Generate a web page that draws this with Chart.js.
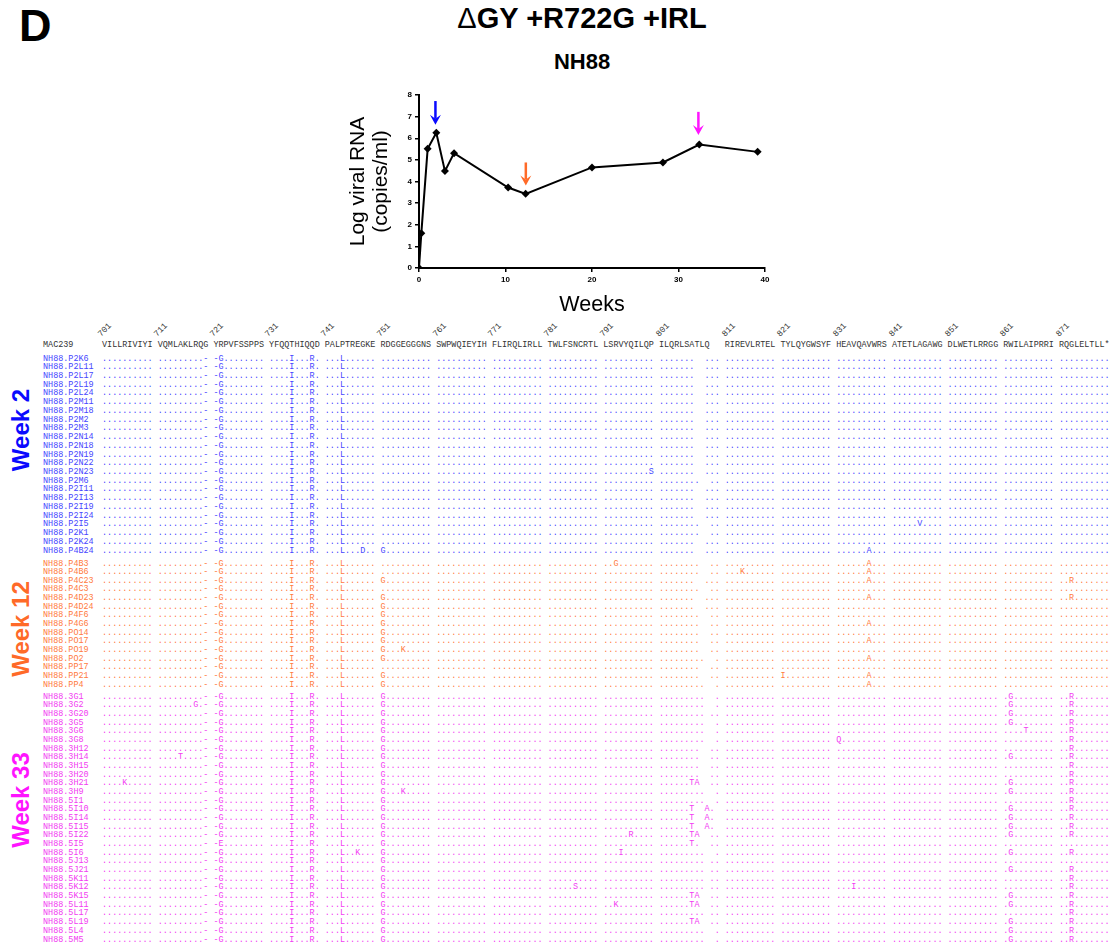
<!DOCTYPE html>
<html>
<head>
<meta charset="utf-8">
<script src="https://cdn.jsdelivr.net/npm/chart.js@4.4.1/dist/chart.umd.min.js"></script>
<style>
  html, body { margin: 0; padding: 0; background: #fff; }
  body { width: 1112px; height: 949px; position: relative; overflow: hidden; font-family: "Liberation Sans", Arial, sans-serif; color: #000; }
  #panel { position: absolute; left: 19px; top: 0px; font-size: 45px; line-height: 52px; font-weight: bold; }
  #title { position: absolute; left: 382px; width: 400px; top: 1px; text-align: center; font-size: 29px; line-height: 34px; font-weight: bold; }
  #title .delta { font-weight: normal; }
  #subtitle { position: absolute; left: 482px; width: 200px; top: 49px; text-align: center; font-size: 22px; font-weight: bold; }
  #chartBox { position: absolute; left: 330px; top: 85px; width: 450px; height: 235px; }
  .seq { position: absolute; font-family: "Liberation Mono", "Courier New", monospace; font-size: 8.45px; line-height: 9px; white-space: pre; }
  .pos { position: absolute; font-family: "Liberation Mono", "Courier New", monospace; font-size: 8.5px; line-height: 9px; color: #333; transform-origin: 0 100%; transform: rotate(-45deg); white-space: pre; }
  .week { position: absolute; font-size: 24px; font-weight: bold; white-space: pre; transform: translate(-50%, -50%) rotate(-90deg); }
</style>
</head>
<body>
<div id="panel">D</div>
<div id="title"><span class="delta">Δ</span>GY +R722G +IRL</div>
<div id="subtitle">NH88</div>
<div id="chartBox"><canvas id="viralLoad" width="450" height="235"></canvas></div>
<div id="alignment"></div>
<script>
// viral load curve
const weeks = [0, 0.27, 1, 2, 3, 4.05, 10.3, 12.33, 20, 28.2, 32.4, 39.15];
const logRNA = [0, 1.61, 5.51, 6.25, 4.48, 5.31, 3.72, 3.43, 4.65, 4.88, 5.71, 5.37];
const xTicks = [0, 10, 20, 30, 40];
const yTicks = [0, 1, 2, 3, 4, 5, 6, 7, 8];

// sampling arrows
const arrowWeeks = [1.9, 12.35, 32.3];
const arrowTops = [7.72, 4.88, 7.22];
const arrowTips = [6.62, 3.82, 6.15];
const arrowColors = ["#0a0aff", "#ff6a28", "#ff14ff"];

// alignment
const positions = [701, 711, 721, 731, 741, 751, 761, 771, 781, 791, 801, 811, 821, 831, 841, 851, 861, 871];
const refBlocks = ["VILLRIVIYI", "VQMLAKLRQG", "YRPVFSSPPS", "YFQQTHIQQD", "PALPTREGKE", "RDGGEGGGNS",
  "SWPWQIEYIH", "FLIRQLIRLL", "TWLFSNCRTL", "LSRVYQILQP", "ILQRLSATLQ  ", "RIREVLRTEL",
  "TYLQYGWSYF", "HEAVQAVWRS", "ATETLAGAWG", "DLWETLRRGG", "RWILAIPRRI", "RQGLELTLL*"];

const D = "..........";
const GAP7 = ".......  ...";
const GAP8 = "........  ..";
const GAP9 = ".........  .";
const GAP9B = "......... ..";
const TA = "......TA  ..";
const TXA = "......T  A. ";
const T1 = "......T.  ..";
const A6 = "......A...";
const G751 = "G.........";
const G861 = ".G........";
const R871 = "..R.......";

const base2 = [D, ".........-", "-G........", "....I...R.", "...L......", D, D, D, D, D, GAP7, D, D, D, D, D, D, D];
const base12 = [D, ".........-", "-G........", "....I...R.", "...L......", G751, D, D, D, D, GAP8, D, D, D, D, D, D, D];
const base33 = [D, ".........-", "-G........", "....I...R.", "...L......", G751, D, D, D, D, GAP9, D, D, D, D, D, G861, R871];

const week2Rows = [
  ["NH88.P2K6", {}], ["NH88.P2L11", {}], ["NH88.P2L17", {}], ["NH88.P2L19", {}], ["NH88.P2L24", {}],
  ["NH88.P2M11", {}], ["NH88.P2M18", {}], ["NH88.P2M2", {}], ["NH88.P2M3", {}], ["NH88.P2N14", {}],
  ["NH88.P2N18", {}], ["NH88.P2N19", {}], ["NH88.P2N22", {}], ["NH88.P2N23", { 9: ".........S" }],
  ["NH88.P2M6", { 10: GAP8 }], ["NH88.P2I11", {}], ["NH88.P2I13", {}], ["NH88.P2I19", {}], ["NH88.P2I24", {}],
  ["NH88.P2I5", { 10: GAP8, 14: ".....V...." }], ["NH88.P2K1", { 10: GAP8 }], ["NH88.P2K24", {}],
  ["NH88.P4B24", { 4: "...L...D..", 5: G751, 13: A6 }]
];

const week12Rows = [
  ["NH88.P4B3", { 5: D, 9: "..G.......", 13: A6 }],
  ["NH88.P4B6", { 5: D, 11: "...K......", 13: A6 }],
  ["NH88.P4C23", { 10: GAP7, 13: A6, 17: R871 }],
  ["NH88.P4C3", { 5: D }],
  ["NH88.P4D23", { 10: GAP7, 13: A6, 17: R871 }],
  ["NH88.P4D24", { 10: GAP7 }],
  ["NH88.P4F6", {}],
  ["NH88.P4G6", { 13: A6 }],
  ["NH88.PO14", {}],
  ["NH88.PO17", { 13: A6 }],
  ["NH88.PO19", { 5: "G...K....." }],
  ["NH88.PO2", { 10: GAP9, 13: A6 }],
  ["NH88.PP17", { 5: D }],
  ["NH88.PP21", { 12: "I.........", 13: A6 }],
  ["NH88.PP4", { 10: GAP9, 13: A6 }]
];

const week33Rows = [
  ["NH88.3G1", {}],
  ["NH88.3G2", { 1: ".......G.-" }],
  ["NH88.3G20", { 10: GAP9B }],
  ["NH88.3G5", {}],
  ["NH88.3G6", { 16: "....T....." }],
  ["NH88.3G8", { 13: "Q.........", 16: D }],
  ["NH88.3H12", { 10: GAP8, 16: D }],
  ["NH88.3H14", { 1: "....T....-", 10: GAP8 }],
  ["NH88.3H15", { 10: GAP8, 16: D }],
  ["NH88.3H20", { 10: GAP8, 16: D }],
  ["NH88.3H21", { 0: "....K.....", 10: TA }],
  ["NH88.3H9", { 5: "G...K....." }],
  ["NH88.5I1", { 16: D }],
  ["NH88.5I10", { 10: TXA }],
  ["NH88.5I14", { 10: TXA }],
  ["NH88.5I15", { 10: TXA }],
  ["NH88.5I22", { 9: ".....R....", 10: TA }],
  ["NH88.5I5", { 2: "-E........", 10: T1, 16: D, 17: D }],
  ["NH88.5I6", { 4: "...L..K...", 9: "...I......" }],
  ["NH88.5J13", { 10: GAP9B, 16: D, 17: D }],
  ["NH88.5J21", { 10: GAP9B }],
  ["NH88.5K11", { 10: GAP9B, 16: D }],
  ["NH88.5K12", { 8: ".....S....", 10: GAP9B, 13: "...I......", 16: D }],
  ["NH88.5K15", { 10: TA }],
  ["NH88.5L11", { 9: "..K.......", 10: TA }],
  ["NH88.5L17", { 10: GAP9B, 16: D }],
  ["NH88.5L19", { 10: TA }],
  ["NH88.5L4", {}],
  ["NH88.5M5", {}]
];

// ---- layout of the alignment text ----
const labelX = 43;
const seqX = 102;
const charW = 8.45 * 0.6;
const groups = [
  { rows: week2Rows, base: base2, color: "#4646ff", first: 359, last: 551, label: "Week 2", labelColor: "#0a0aff", labelY: 430 },
  { rows: week12Rows, base: base12, color: "#ff7a40", first: 564, last: 685, label: "Week 12", labelColor: "#ff6a28", labelY: 629 },
  { rows: week33Rows, base: base33, color: "#f23cf2", first: 697, last: 940, label: "Week 33", labelColor: "#ff14ff", labelY: 800 }
];

const host = document.getElementById("alignment");

function addText(cls, text, x, y, color) {
  const el = document.createElement("div");
  el.className = cls;
  el.textContent = text;
  el.style.left = x + "px";
  el.style.top = y + "px";
  if (color) el.style.color = color;
  host.appendChild(el);
  return el;
}

function blockStart(i) {
  return refBlocks.slice(0, i).reduce((n, b) => n + b.length + 1, 0);
}

positions.forEach((p, i) => {
  addText("pos", String(p), seqX + blockStart(i) * charW + 1, 330);
});
addText("seq", "MAC239", labelX, 341, "#333");
addText("seq", refBlocks.join(" "), seqX, 341, "#333");

groups.forEach(g => {
  const step = (g.last - g.first) / (g.rows.length - 1);
  g.rows.forEach(([name, changes], r) => {
    const blocks = g.base.slice();
    Object.entries(changes).forEach(([k, v]) => { blocks[k] = v; });
    const y = g.first + r * step - 4.5;
    addText("seq", name, labelX, y, g.color);
    addText("seq", blocks.join(" "), seqX, y, g.color);
  });
  addText("week", g.label, 21, g.labelY, g.labelColor);
});

// ---- viral load chart ----
const family = "'Liberation Sans', Arial, sans-serif";

const arrowPlugin = {
  id: "weekArrows",
  afterDatasetsDraw(chart) {
    const { ctx, scales: { x, y } } = chart;
    arrowWeeks.forEach((w, i) => {
      const px = x.getPixelForValue(w);
      const top = y.getPixelForValue(arrowTops[i]);
      const tip = y.getPixelForValue(arrowTips[i]);
      ctx.save();
      ctx.strokeStyle = arrowColors[i];
      ctx.fillStyle = arrowColors[i];
      ctx.lineWidth = 2.5;
      ctx.beginPath();
      ctx.moveTo(px, top);
      ctx.lineTo(px, tip - 6);
      ctx.stroke();
      ctx.beginPath();
      ctx.moveTo(px - 5.5, tip - 10);
      ctx.lineTo(px, tip);
      ctx.lineTo(px + 5.5, tip - 10);
      ctx.lineTo(px, tip - 6);
      ctx.closePath();
      ctx.fill();
      ctx.restore();
    });
  }
};

const ctx = document.getElementById("viralLoad");

const viralLoad = new Chart(ctx, {
  type: "line",
  data: {
    datasets: [
      {
        data: weeks.map((w, i) => ({ x: w, y: logRNA[i] })),
        borderColor: "#000",
        backgroundColor: "#000",
        borderWidth: 2,
        pointStyle: "rectRot",
        pointRadius: 4,
        pointBorderWidth: 0,
        tension: 0
      }
    ]
  },
  options: {
    responsive: false,
    animation: false,
    layout: { padding: { left: 0, right: 15, top: 10, bottom: 0 } },
    plugins: {
      legend: { display: false },
      tooltip: { enabled: false }
    },
    scales: {
      x: {
        type: "linear",
        min: 0,
        max: 40,
        afterFit: s => { s.height = 52; },
        afterBuildTicks: s => { s.ticks = xTicks.map(v => ({ value: v })); },
        ticks: { color: "#000", padding: 3, maxRotation: 0, font: { size: 8, weight: "bold", family: family } },
        grid: { drawOnChartArea: false, drawTicks: true, tickLength: 4, color: "#000", lineWidth: 1.5 },
        border: { color: "#000", width: 2 },
        title: {
          display: true,
          text: "Weeks",
          color: "#000",
          font: { size: 21.5, family: family, lineHeight: 1.2 },
          padding: { top: 0, bottom: 2 }
        }
      },
      y: {
        min: 0,
        max: 8,
        afterFit: s => { s.width = 89; },
        afterBuildTicks: s => { s.ticks = yTicks.map(v => ({ value: v })); },
        ticks: { color: "#000", padding: 3, font: { size: 8, weight: "bold", family: family } },
        grid: { drawOnChartArea: false, drawTicks: true, tickLength: 4, color: "#000", lineWidth: 1.5 },
        border: { color: "#000", width: 2 },
        title: {
          display: true,
          text: ["Log viral RNA", "(copies/ml)"],
          color: "#000",
          font: { size: 21, family: family, lineHeight: 1.1 },
          padding: { top: 17, bottom: 0 }
        }
      }
    }
  },
  plugins: [arrowPlugin]
});
</script>
</body>
</html>
